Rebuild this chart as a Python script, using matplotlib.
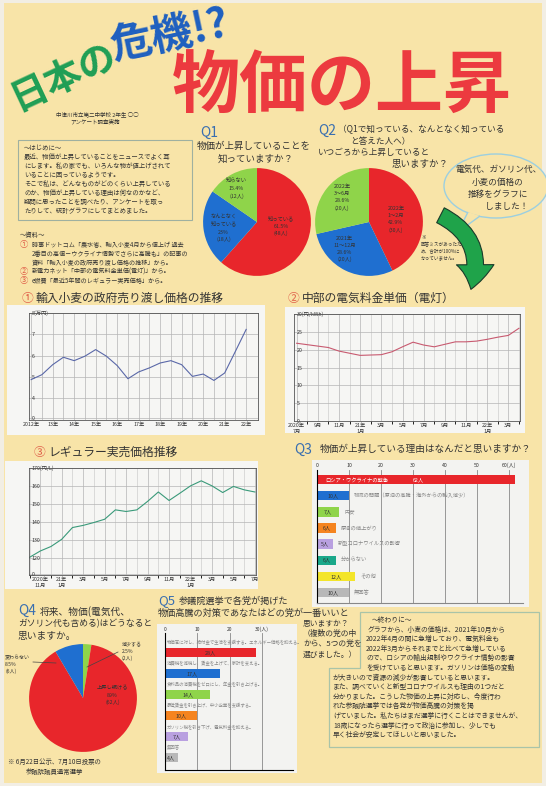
import numpy as np
import matplotlib as mpl
import matplotlib.pyplot as plt
from matplotlib import patches

plt.rcParams['font.family'] = ['Noto Sans CJK JP', 'DejaVu Sans']

# ---- data ----
q1_labels = ['知っている\n61.5%\n(48人)', 'なんとなく\n知っている\n23%\n(18人)', '知らない\n15.4%\n(12人)']
q1_values = [61.5, 23.0, 15.4]

q2_labels = ['2022年\n1～2月\n42.9%\n(30人)', '2021年\n11～12月\n28.6%\n(20人)', '2022年\n3～6月\n28.6%\n(20人)']
q2_values = [42.9, 28.6, 28.6]

wheat_years = ['2012年', '13年', '14年', '15年', '16年', '17年', '18年', '19年', '20年', '21年', '22年']
wheat_price = [4.87, 5.10, 5.57, 5.92, 5.76, 5.97, 6.28, 5.97, 5.53, 4.91, 5.23,
               5.42, 5.65, 5.76, 5.57, 5.02, 5.13, 4.83, 5.18, 6.20, 7.23]

elec_ticks = ['2020年\n7月', '9月', '11月', '21年\n1月', '3月', '5月', '7月', '9月', '11月', '22年\n1月', '3月']
elec_price = [21.8, 21.4, 21.0, 20.6, 19.6, 19.0, 18.4, 18.5, 18.6, 19.4, 20.8,
              22.1, 21.3, 20.8, 21.5, 22.2, 22.2, 22.4, 22.9, 23.5, 24.0, 26.0]

gas_ticks = ['2020年\n11月', '21年\n1月', '3月', '5月', '7月', '9月', '11月', '22年\n1月', '3月', '5月', '7月']
gas_price = [120.5, 124.0, 126.5, 130.5, 137.0, 138.2, 139.8, 141.6, 146.8, 145.9, 146.8,
             151.5, 156.7, 152.0, 156.0, 160.1, 162.9, 160.1, 156.4, 159.8, 157.9, 156.7]

q3_reasons = ['ロシア・ウクライナの戦争', '物流の問題（原油の高騰・海外からの輸入減少）', '円安', '原油の値上がり',
              '新型コロナウイルスの影響', '分からない', 'その他', '無回答']
q3_counts = [62, 10, 7, 6, 5, 6, 12, 10]

q4_labels = ['減少する\n2.5%\n(2人)', '上昇し続ける\n89%\n(62人)', '変わらない\n8.5%\n(6人)']
q4_values = [2.5, 89.0, 8.5]

q5_policies = ['物価高に対し、給付金で生活を支援する。エネルギー価格を抑える。',
               '消費税を減税し、賃金を上げて、家計を支える。',
               '食料品の消費税をゼロにし、年金を引き上げる。',
               '最低賃金を引き上げ、中小企業を支援する。',
               'ガソリン税を引き下げ、電気料金を抑える。',
               '無回答']
q5_counts = [28, 17, 14, 10, 7, 4]

W, H = 546, 786
BG = '#f8e4a8'
INK = '#333333'
RED, BLUE, GREEN = '#e8262b', '#1f6fd0', '#8fd44a'

fig = plt.figure(figsize=(W / 100, H / 100), dpi=100)
fig.patch.set_facecolor('#f2eee4')


def put(x, y, s, size=5, color=INK, **kw):
    kw.setdefault('va', 'top')
    return fig.text(x / W, 1 - y / H, s, fontsize=size, color=color, **kw)


def box(x, y, w, h, fc='none', ec='none', lw=0.8, z=0):
    r = patches.Rectangle((x / W, 1 - (y + h) / H), w / W, h / H, transform=fig.transFigure,
                          facecolor=fc, edgecolor=ec, linewidth=lw, zorder=z)
    fig.add_artist(r)


def px_axes(x, y, w, h):
    return fig.add_axes([x / W, 1 - (y + h) / H, w / W, h / H])


box(4, 3, 538, 780, fc=BG)

# ---- header ----
put(17, 110, '日本の', 27, '#1f9e55', va='baseline', rotation=25, rotation_mode='anchor', fontweight='bold')
put(113, 60, '危機!?', 30, '#1e5fc0', va='baseline', rotation=12, rotation_mode='anchor', fontweight='bold')
put(172, 108, '物価の上昇', 49, '#ec3a3f', va='baseline', fontweight='bold')
put(56, 111, '中津川市立第二中学校 2年生 ○○', 4)
put(70, 119, 'アンケート調査実施', 4)

# ---- intro / sources ----
box(18, 140, 174, 80, ec='#9fb0a0', lw=0.8)
intro = ['～はじめに～',
         '最近、物価が上昇していることをニュースでよく耳',
         'にします。私の家でも、いろんな物が値上げされて',
         'いることに困っているようです。',
         'そこで私は、どんなものがどのくらい上昇している',
         'のか、物価が上昇している理由は何なのかなど、',
         '疑問に思ったことを調べたり、アンケートを取っ',
         'たりして、統計グラフにしてまとめました。']
for i, s in enumerate(intro):
    put(24, 144 + i * 9, s, 4.6)

put(20, 231, '～資料～', 4.6)
src = [('①', '時事ドットコム「農水省、輸入小麦4月から値上げ 過去'),
       ('', '2番目の高値－ウクライナ情勢でさらに高騰も」の記事の'),
       ('', '資料「輸入小麦の政府売り渡し価格の推移」から。'),
       ('②', '新電力ネット「中部の電気料金単価(電灯)」から。'),
       ('③', 'e燃費「最近5年間のレギュラー実売価格」から。')]
for i, (n, s) in enumerate(src):
    if n:
        put(20, 240 + i * 9, n, 6, '#e0604a')
    put(32, 241 + i * 9, s, 4.4)

# ---- Q1 / Q2 pies ----
put(200, 126, 'Q1', 10, '#3a6fb0')
put(197, 142, '物価が上昇していることを', 6.8)
put(218, 154, '知っていますか？', 6.8)

put(318, 124, 'Q2', 10, '#3a6fb0')
put(338, 125, '（Q1で知っている、なんとなく知っている', 6.2)
put(350, 137, 'と答えた人へ）', 6.2)
put(318, 148, 'いつごろから上昇していると', 6.2)
put(392, 160, '思いますか？', 6.8)


def pie_at(cx, cy, r, vals, cols, labels, pos):
    ax = px_axes(cx - r, cy - r, 2 * r, 2 * r)
    ax.pie(vals, colors=cols, startangle=90, counterclock=False, radius=1)
    ax.set_xlim(-1.02, 1.02)
    ax.set_ylim(-1.02, 1.02)
    ax.set_aspect('equal')
    ax.axis('off')
    for lab, (lx, ly) in zip(labels, pos):
        if lab:
            ax.text(lx, ly, lab, fontsize=3.8, color=INK, ha='center', va='center', linespacing=1.5)
    return ax


pie_at(257, 222, 55, q1_values, [RED, BLUE, GREEN], q1_labels,
       [(0.45, -0.08), (-0.62, -0.12), (-0.38, 0.62)])
pie_at(369, 222, 55, q2_values, [RED, BLUE, GREEN], q2_labels,
       [(0.5, 0.05), (-0.45, -0.5), (-0.5, 0.45)])
put(421, 235, '※\n回答ミスがあったた\nめ、合計が100%に\nなっていません。', 3.3, linespacing=1.4)

# speech bubble and arrow
bub = patches.Ellipse((496 / W, 1 - 186 / H), 104 / W, 64 / H, transform=fig.transFigure,
                      facecolor=BG, edgecolor='#9ccfe0', linewidth=1.0, zorder=2)
fig.add_artist(bub)
tail = patches.Polygon([(468 / W, 1 - 212 / H), (458 / W, 1 - 232 / H), (480 / W, 1 - 216 / H)],
                       closed=False, transform=fig.transFigure, facecolor=BG, edgecolor='#9ccfe0',
                       linewidth=1.0, zorder=2)
fig.add_artist(tail)
put(498, 165, '電気代、ガソリン代、\n小麦の価格の\n推移をグラフに\n　　しました！', 6.2,
    ha='center', linespacing=1.5, zorder=3)

arr = patches.FancyArrowPatch((438 / W, 1 - 214 / H), (470 / W, 1 - 292 / H), transform=fig.transFigure,
                              connectionstyle='arc3,rad=-0.45',
                              arrowstyle='simple,head_width=27,head_length=18,tail_width=12',
                              mutation_scale=1, facecolor='#1fa34a', edgecolor='#1a3a2a', linewidth=0.8,
                              zorder=3)
fig.add_artist(arr)


# ---- line charts ----
def line_panel(ax, y, color):
    ax.set_facecolor('#f6f6f4')
    ax.plot(np.arange(len(y)), y, color=color, linewidth=0.8)
    ax.tick_params(labelsize=3.8, length=0, pad=1.5, colors=INK)
    for s in ax.spines.values():
        s.set_linewidth(0.6)
        s.set_color('#555555')
    ax.grid(True, color='#b5b5b5', linewidth=0.5)


put(22, 292, '①', 8.5, '#e0604a')
put(36, 292, '輸入小麦の政府売り渡し価格の推移', 8.5)
box(7, 305, 258, 130, fc='#f6f6f4')
ax1 = px_axes(29, 313, 229, 107)
line_panel(ax1, wheat_price, '#5a68a8')
ax1.set_xlim(-0.2, 21.1)
ax1.set_ylim(2.97, 8.0)
ax1.set_xticks(np.arange(21))
ax1.set_xticklabels([wheat_years[i // 2] if i % 2 == 0 else '' for i in range(21)])
ax1.set_yticks([3.06, 4, 5, 6, 7, 8])
ax1.set_yticklabels(['0', '4', '5', '6', '7', '8(万円)'])
for lab in ax1.get_yticklabels():
    lab.set_horizontalalignment('left')
ax1.tick_params(axis='y', pad=-2, direction='in')

put(288, 292, '②', 8.5, '#e0604a')
put(302, 292, '中部の電気料金単価（電灯）', 8.5)
box(285, 307, 240, 126, fc='#f6f6f4')
ax2 = px_axes(294, 314, 226, 107)
line_panel(ax2, elec_price, '#c85a70')
ax2.set_xlim(-0.25, 21.1)
ax2.set_ylim(0, 30)
ax2.set_xticks(np.arange(0, 21, 2))
ax2.set_xticklabels(elec_ticks)
ax2.set_xticks(np.arange(22), minor=True)
ax2.grid(True, which='minor', axis='x', color='#c5c5c5', linewidth=0.4)
ax2.set_yticks([0, 5, 10, 15, 20, 25, 30])
ax2.set_yticklabels(['0', '5', '10', '15', '20', '25', '30(円/kWh)'])
for lab in ax2.get_yticklabels():
    lab.set_horizontalalignment('left')
ax2.tick_params(axis='y', pad=-2)

put(34, 446, '③', 8.5, '#e0604a')
put(48, 446, 'レギュラー実売価格推移', 8.5)
box(5, 461, 253, 128, fc='#f6f6f4')
ax3 = px_axes(29, 468, 227, 107)
line_panel(ax3, gas_price, '#3a9a7a')
ax3.set_xlim(-0.05, 21.1)
ax3.set_ylim(110.7, 170)
ax3.set_xticks(np.arange(1, 22, 2))
ax3.set_xticklabels(gas_ticks)
ax3.set_xticks(np.arange(22), minor=True)
ax3.grid(True, which='minor', axis='x', color='#c5c5c5', linewidth=0.4)
ax3.set_yticks([111.5, 120, 130, 140, 150, 160, 170])
ax3.set_yticklabels(['0', '120', '130', '140', '150', '160', '170(円/L)'])
for lab in ax3.get_yticklabels():
    lab.set_horizontalalignment('left')
ax3.tick_params(axis='y', pad=-2)

# ---- Q3 bars ----
put(294, 443, 'Q3', 10, '#3a6fb0')
put(320, 445, '物価が上昇している理由はなんだと思いますか？', 6.9)
box(312, 460, 217, 147, fc='#f3f3f1')
ax4 = px_axes(317, 470, 206, 133)
ax4.set_facecolor('#f3f3f1')
q3_cols = [RED, BLUE, GREEN, '#f5841f', '#b9a0e0', '#1aa88a', '#f3e52a', '#b8b8b8']
yy = np.arange(len(q3_counts))
ax4.barh(yy, q3_counts, height=0.58, color=q3_cols, zorder=2)
ax4.set_ylim(7.65, -0.6)
ax4.set_xlim(0, 64.5)
ax4.xaxis.tick_top()
ax4.set_xticks(np.arange(0, 61, 10))
ax4.set_xticklabels(['0', '10', '20', '30', '40', '50', '60(人)'])
ax4.set_yticks([])
ax4.tick_params(labelsize=3.8, length=0, pad=1.5, colors=INK)
ax4.grid(True, axis='x', color='#888888', linewidth=0.6, zorder=0)
for s in ['top', 'right']:
    ax4.spines[s].set_visible(False)
ax4.spines['left'].set_linewidth(0.8)
ax4.spines['bottom'].set_color('#888888')
for i, (c, r) in enumerate(zip(q3_counts, q3_reasons)):
    if i == 0:
        ax4.text(2.5, i, r, fontsize=3.8, color='#ffffff', va='center', zorder=3)
        ax4.text(30, i, f'{c}人', fontsize=3.8, color='#ffffff', va='center', zorder=3)
    else:
        ax4.text(c / 2, i, f'{c}人', fontsize=3.8, color=INK, ha='center', va='center', zorder=3)
        ax4.text(c + 1.5, i, r, fontsize=3.8, color='#888888', va='center', zorder=3)

# ---- Q4 pie ----
put(18, 604, 'Q4', 10, '#3a6fb0')
put(40, 606, '将来、物価(電気代、', 7.0)
put(18, 619, 'ガソリン代も含める)はどうなると', 6.3)
put(18, 631, '思いますか。', 7.0)
pie_at(83, 698, 55, q4_values, [GREEN, RED, BLUE], ['', q4_labels[1], ''], [(0, 0), (0.55, 0.05), (0, 0)])
put(122, 642, q4_labels[0], 3.6, linespacing=1.4)
put(5, 655, q4_labels[2], 3.6, linespacing=1.4)
fig.add_artist(plt.Line2D([118 / W, 87 / W], [1 - 652 / H, 1 - 667 / H], color='#444', lw=0.5))
fig.add_artist(plt.Line2D([33 / W, 56 / W], [1 - 662 / H, 1 - 663 / H], color='#444', lw=0.5))
put(8, 758, '※ 6月22日公示、7月10日投票の', 4.6)
put(26, 768, '参議院議員通常選挙', 4.6)

# ---- Q5 bars ----
put(158, 594, 'Q5', 9.5, '#3a6fb0')
put(179, 597, '参議院選挙で各党が掲げた', 6.6)
put(158, 609, '物価高騰の対策であなたはどの党が一番いいと', 6.6)
put(303, 620, '思いますか？\n（複数の党の中\nから、5つの党を\n選びました。）', 5.6, linespacing=1.35)
box(157, 624, 140, 149, fc='#f3f3f1')
ax5 = px_axes(165, 633, 128, 137)
ax5.set_facecolor('#f3f3f1')
q5_cols = [RED, BLUE, GREEN, '#f5841f', '#b9a0e0', '#b8b8b8']
y5 = np.arange(len(q5_counts))
ax5.barh(y5, q5_counts, height=0.42, color=q5_cols, zorder=2)
ax5.set_ylim(5.6, -0.95)
ax5.set_xlim(0, 39.6)
ax5.xaxis.tick_top()
ax5.set_xticks([0, 10, 20, 30])
ax5.set_xticklabels(['0', '10', '20', '30(人)'])
ax5.set_yticks([])
ax5.tick_params(labelsize=3.6, length=0, pad=0.8, colors=INK)
ax5.grid(True, axis='x', color='#888888', linewidth=0.6, zorder=0)
for s in ['top', 'right']:
    ax5.spines[s].set_visible(False)
ax5.spines['left'].set_linewidth(0.8)
for i, (c, p) in enumerate(zip(q5_counts, q5_policies)):
    ax5.text(c / 2, i, f'{c}人', fontsize=3.8, color=INK, ha='center', va='center', zorder=3)
    ax5.text(0.6, i - 0.47, p, fontsize=3.2, color='#8a8a8a', va='center', zorder=3)

# ---- conclusion ----
poly = patches.Polygon([(360 / W, 1 - 612 / H), (539 / W, 1 - 612 / H), (539 / W, 1 - 747 / H),
                        (329 / W, 1 - 747 / H), (329 / W, 1 - 668 / H), (360 / W, 1 - 668 / H)],
                       closed=True, transform=fig.transFigure, facecolor='none',
                       edgecolor='#a9c4a8', linewidth=0.9)
fig.add_artist(poly)
concl = [(372, '～終わりに～'),
         (368, 'グラフから、小麦の価格は、2021年10月から'),
         (366, '2022年4月の間に急増しており、電気料金も'),
         (366, '2022年3月からそれまでと比べて急増している'),
         (366, 'ので、ロシアの輸出規制やウクライナ情勢の影響'),
         (366, 'を受けていると思います。ガソリンは価格の変動'),
         (333, 'が大きいので資源の減少が影響していると思います。'),
         (333, 'また、調べていくと新型コロナウイルスも理由の1つだと'),
         (333, '分かりました。こうした物価の上昇に対応し、今度行わ'),
         (333, 'れた参議院選挙では各党が物価高騰の対策を掲'),
         (333, 'げていました。私たちはまだ選挙に行くことはできませんが、'),
         (333, '18歳になったら選挙に行って政治に参加し、少しでも'),
         (333, '早く社会が安定してほしいと思いました。')]
for i, (x, s) in enumerate(concl):
    put(x, 616 + i * 9.6, s, 4.9)

fig.savefig('out.png', dpi=100, facecolor=fig.get_facecolor())
